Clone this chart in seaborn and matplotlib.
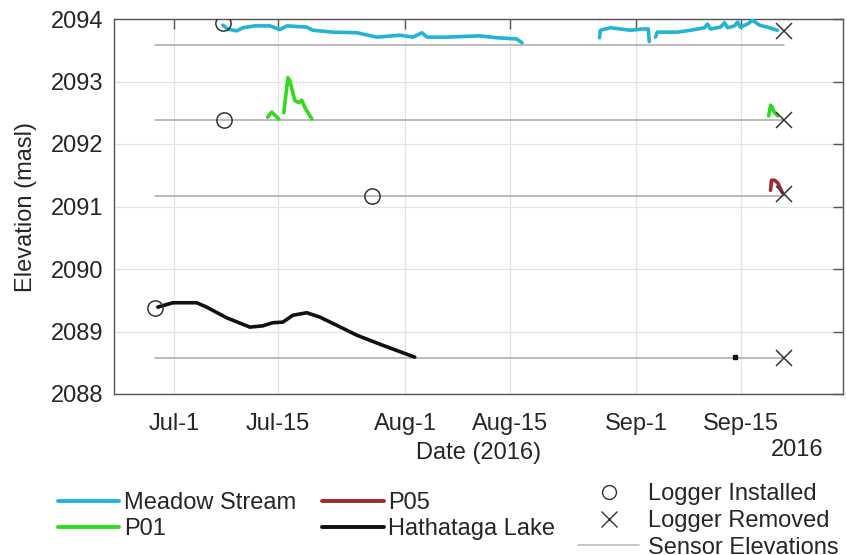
import pandas as pd
import matplotlib
matplotlib.use("Agg")
import matplotlib.pyplot as plt
from matplotlib.lines import Line2D
import seaborn as sns

# ── Data ───────────────────────────────────────────────────────────────────────
MEADOW_T = [
    "2016-07-07 14:00", "2016-07-08 06:00", "2016-07-09 11:00", "2016-07-10 06:00",
    "2016-07-11 21:00", "2016-07-13 21:00", "2016-07-15 05:00", "2016-07-16 04:00",
    "2016-07-18 20:00", "2016-07-19 15:00", "2016-07-22 07:00", "2016-07-25 13:00",
    "2016-07-28 05:00", "2016-07-31 07:00", "2016-08-02 01:00", "2016-08-03 06:00",
    "2016-08-03 22:00", "2016-08-06 14:00", "2016-08-11 00:00", "2016-08-13 07:00",
    "2016-08-15 23:00", "2016-08-16 16:00",
    "2016-08-27 01:00", "2016-08-27 04:00", "2016-08-28 12:00", "2016-08-29 20:00",
    "2016-08-31 05:00", "2016-09-01 19:00", "2016-09-02 14:00", "2016-09-02 17:00",
    "2016-09-03 13:00", "2016-09-03 19:00", "2016-09-04 18:00", "2016-09-06 12:00",
    "2016-09-08 06:00", "2016-09-10 03:00", "2016-09-10 12:00", "2016-09-10 22:00",
    "2016-09-12 06:00", "2016-09-12 19:00", "2016-09-13 05:00", "2016-09-14 03:00",
    "2016-09-14 13:00", "2016-09-14 22:00", "2016-09-15 21:00", "2016-09-16 13:00",
    "2016-09-17 12:00", "2016-09-18 13:00", "2016-09-19 21:00",
]
MEADOW_Z = [
    2093.90, 2093.84, 2093.81, 2093.86, 2093.89, 2093.89, 2093.83, 2093.89,
    2093.87, 2093.82, 2093.79, 2093.78, 2093.71, 2093.74, 2093.71, 2093.78,
    2093.71, 2093.71, 2093.73, 2093.70, 2093.68, 2093.62,
    2093.70, 2093.82, 2093.86, 2093.84, 2093.82, 2093.84, 2093.84, 2093.64,
    2093.71, 2093.79, 2093.79, 2093.79, 2093.82, 2093.86, 2093.92, 2093.84,
    2093.87, 2093.94, 2093.86, 2093.89, 2093.95, 2093.87, 2093.92, 2093.98,
    2093.90, 2093.87, 2093.82,
]
MEADOW_SEG = [0] * 22 + [1] * 8 + [2] * 19

P01_T = [
    "2016-07-13 14:00", "2016-07-14 03:00", "2016-07-15 02:00",
    "2016-07-15 18:00", "2016-07-16 07:00", "2016-07-16 13:00", "2016-07-17 05:00",
    "2016-07-17 18:00", "2016-07-18 04:00", "2016-07-18 13:00", "2016-07-19 12:00",
    "2016-09-18 17:00", "2016-09-18 23:00", "2016-09-19 05:00", "2016-09-19 12:00",
    "2016-09-19 22:00",
]
P01_Z = [
    2092.43, 2092.51, 2092.40,
    2092.50, 2093.06, 2093.02, 2092.70, 2092.66, 2092.70, 2092.59, 2092.40,
    2092.45, 2092.62, 2092.58, 2092.50, 2092.45,
]
P01_SEG = [0] * 3 + [1] * 8 + [2] * 5

P05_T = ["2016-09-18 23:00", "2016-09-19 02:00", "2016-09-19 12:00",
         "2016-09-19 22:00", "2016-09-20 13:00"]
P05_Z = [2091.26, 2091.42, 2091.42, 2091.38, 2091.22]
P05_SEG = [0] * 5

LAKE_T = [
    "2016-06-28 21:00", "2016-06-30 21:00", "2016-07-04 02:00", "2016-07-05 10:00",
    "2016-07-08 02:00", "2016-07-11 05:00", "2016-07-12 22:00", "2016-07-14 06:00",
    "2016-07-15 15:00", "2016-07-16 23:00", "2016-07-18 20:00", "2016-07-20 14:00",
    "2016-07-22 20:00", "2016-07-25 13:00", "2016-07-29 00:00", "2016-08-02 07:00",
]
LAKE_Z = [
    2089.39, 2089.46, 2089.46, 2089.39, 2089.22, 2089.07, 2089.09, 2089.14,
    2089.15, 2089.26, 2089.30, 2089.23, 2089.10, 2088.94, 2088.78, 2088.59,
]
LAKE_SEG = [0] * 16
LAKE_DOT_T = ["2016-09-14 06:00"]
LAKE_DOT_Z = [2088.60]

INSTALLED_T = ["2016-07-07 14:00", "2016-07-07 17:00", "2016-07-27 13:00", "2016-06-28 11:00"]
INSTALLED_Z = [2093.94, 2092.38, 2091.17, 2089.38]
REMOVED_T = ["2016-09-20 17:00"] * 4
REMOVED_Z = [2093.80, 2092.38, 2091.20, 2088.58]
SENSOR_Z = [2093.58, 2092.38, 2091.17, 2088.58]
SENSOR_START = "2016-06-28 11:00"
SENSOR_END = "2016-09-20 17:00"

XTICK_DATES = ["2016-07-01", "2016-07-15", "2016-08-01", "2016-08-15", "2016-09-01", "2016-09-15"]
XTICK_LABELS = ["Jul-1", "Jul-15", "Aug-1", "Aug-15", "Sep-1", "Sep-15"]
YTICKS = [2088, 2089, 2090, 2091, 2092, 2093, 2094]

COLORS = {
    "Meadow Stream": "#22B4D4",
    "P01": "#30DA20",
    "P05": "#A02A2D",
    "Hathataga Lake": "#111111",
}

FS = 17


def frame(times, elev, seg):
    return pd.DataFrame({"time": pd.to_datetime(times), "elev": elev, "seg": seg})


def main():
    sns.set_theme(style="white")
    plt.rcParams["font.family"] = ["Liberation Sans", "DejaVu Sans"]

    fig = plt.figure(figsize=(8.47, 5.55), dpi=100)
    ax = fig.add_axes([114 / 847, 1 - 394 / 555, (843 - 114) / 847, (394 - 19) / 555])

    ax.grid(True, color="#E3E3E3", lw=0.9)
    ax.set_axisbelow(True)

    # sensor elevations
    for z in SENSOR_Z:
        ax.plot(pd.to_datetime([SENSOR_START, SENSOR_END]), [z, z], color="#A8A8A8", lw=1.1, zorder=2)

    series = [
        ("Meadow Stream", frame(MEADOW_T, MEADOW_Z, MEADOW_SEG)),
        ("P01", frame(P01_T, P01_Z, P01_SEG)),
        ("P05", frame(P05_T, P05_Z, P05_SEG)),
        ("Hathataga Lake", frame(LAKE_T, LAKE_Z, LAKE_SEG)),
    ]
    for name, df in series:
        sns.lineplot(data=df, x="time", y="elev", units="seg", estimator=None,
                     color=COLORS[name], lw=2.6, ax=ax, legend=False, zorder=3)
    ax.plot(pd.to_datetime(LAKE_DOT_T), LAKE_DOT_Z, "s", ms=2.2, color="#111111", zorder=3)

    ax.plot(pd.to_datetime(INSTALLED_T), INSTALLED_Z, "o", ms=11, mfc="none",
            mec="#333333", mew=1.1, ls="none", zorder=4)
    ax.plot(pd.to_datetime(REMOVED_T), REMOVED_Z, "x", ms=12, mec="#333333",
            mew=1.1, ls="none", zorder=4)

    ax.set_xlim(pd.Timestamp("2016-06-23 00:00"), pd.Timestamp("2016-09-28 16:00"))
    ax.set_ylim(2088, 2094)
    ax.set_xticks(pd.to_datetime(XTICK_DATES))
    ax.set_xticklabels(XTICK_LABELS)
    ax.set_yticks(YTICKS)
    ax.set_yticklabels([str(y) for y in YTICKS])
    ax.tick_params(direction="in", top=True, right=True, length=7, width=1,
                   color="#555555", labelcolor="#262626", labelsize=FS)
    ax.tick_params(axis="x", pad=14)
    ax.tick_params(axis="y", pad=8)
    for sp in ax.spines.values():
        sp.set_color("#555555")
        sp.set_linewidth(1.0)

    ax.set_xlabel("Date (2016)", fontsize=FS, color="#262626", labelpad=5)
    ax.set_ylabel("Elevation (masl)", fontsize=FS, color="#262626", labelpad=10)
    fig.text(797 / 847, 1 - 450 / 555, "2016", fontsize=FS, color="#262626",
             ha="center", va="center")

    # legends
    line_handles = [Line2D([], [], color=COLORS[n], lw=2.8) for n in COLORS]
    leg1 = fig.legend(line_handles, list(COLORS), loc="center left",
                      bbox_to_anchor=(58 / 847, 1 - 516 / 555), ncol=2, frameon=False,
                      fontsize=FS, handlelength=2.6, handletextpad=0.2,
                      columnspacing=1.1, labelspacing=0.15, borderpad=0, borderaxespad=0)
    for t in leg1.get_texts():
        t.set_color("#262626")

    mark_handles = [
        Line2D([], [], marker="o", ls="none", ms=10, mfc="none", mec="#333333", mew=1.0),
        Line2D([], [], marker="x", ls="none", ms=11, mec="#333333", mew=1.0),
        Line2D([], [], color="#BDBDBD", lw=1.2),
    ]
    leg2 = fig.legend(mark_handles, ["Logger Installed", "Logger Removed", "Sensor Elevations"],
                      loc="center left", bbox_to_anchor=(578 / 847, 1 - 521 / 555),
                      frameon=False, fontsize=FS, handlelength=2.6, handletextpad=0.35,
                      labelspacing=0.2, borderpad=0, borderaxespad=0)
    for t in leg2.get_texts():
        t.set_color("#262626")

    fig.savefig("out.png", dpi=100)
    plt.close(fig)


if __name__ == "__main__":
    main()
